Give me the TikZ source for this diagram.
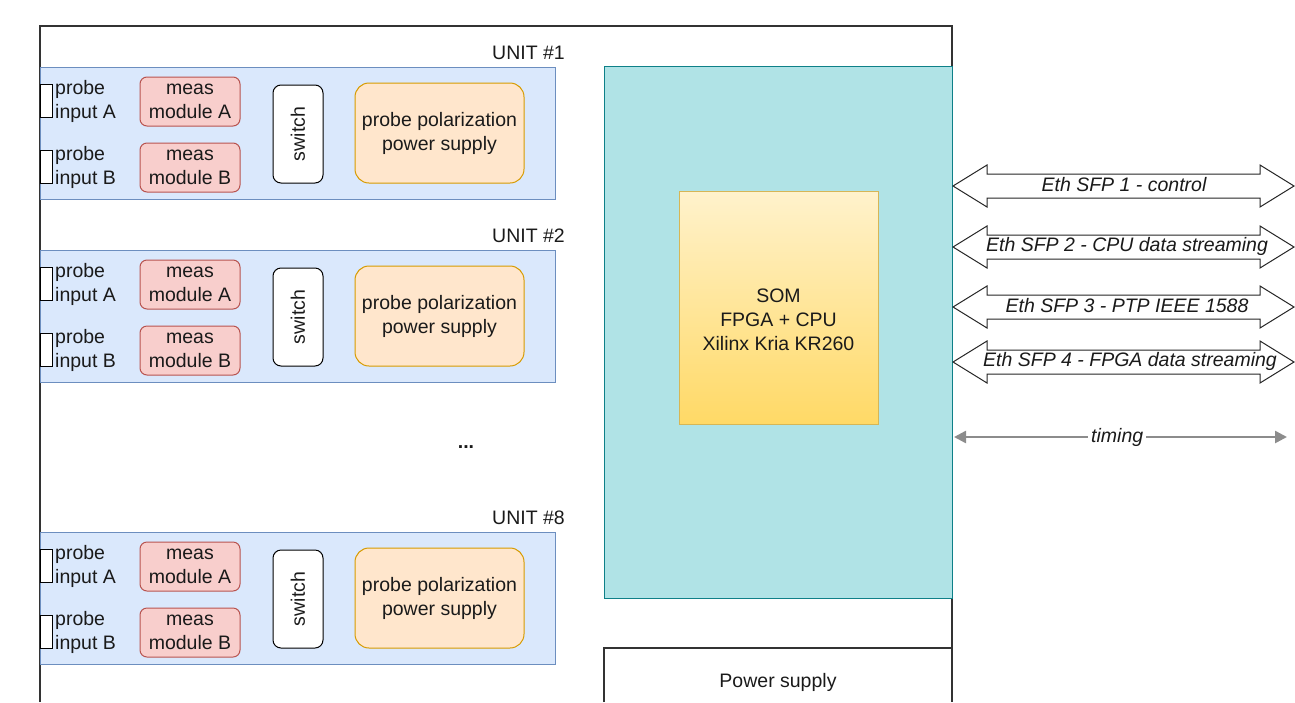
\documentclass[tikz,border=0pt]{standalone}
\usepackage{fontspec}
\setmainfont{Liberation Sans}
\usetikzlibrary{arrows.meta}
\definecolor{bfill}{HTML}{DAE8FC}\definecolor{bdraw}{HTML}{6C8EBF}
\definecolor{rfill}{HTML}{F8CECC}\definecolor{rdraw}{HTML}{B85450}
\definecolor{ofill}{HTML}{FFE6CC}\definecolor{odraw}{HTML}{D79B00}
\definecolor{tfill}{HTML}{B0E3E6}\definecolor{tdraw}{HTML}{0E8088}
\definecolor{ytop}{HTML}{FFF2CC}\definecolor{ybot}{HTML}{FFD966}\definecolor{ydraw}{HTML}{D6B656}
\definecolor{txt}{HTML}{1A1A1A}\definecolor{tgray}{HTML}{8C8C8C}
\begin{document}
\begin{tikzpicture}[x=1pt,y=-1pt,
  every node/.style={font=\fontsize{19.5}{24}\selectfont, text=txt, inner sep=0pt},
  frame/.style={draw=black!80, line width=1.3pt},
  unitbox/.style={draw=bdraw, fill=bfill, line width=1pt, minimum width=515pt, minimum height=132pt},
  probebox/.style={draw=black, fill=white, line width=1pt, minimum width=12pt, minimum height=33pt},
  probetxt/.style={anchor=west, align=left},
  measbox/.style={draw=rdraw, fill=rfill, line width=1pt, rounded corners=7pt, minimum width=100pt, minimum height=49pt, align=center},
  swbox/.style={draw=black, fill=white, line width=1pt, rounded corners=8pt, minimum width=50pt, minimum height=98pt},
  ppsbox/.style={draw=odraw, fill=ofill, line width=1pt, rounded corners=14pt, minimum width=169pt, minimum height=100pt, align=center},
  fat/.style={draw=black!85, fill=white, line width=1pt, line join=miter},
  ethlab/.style={font=\fontsize{19.5}{24}\selectfont\itshape},
  timing/.style={draw=tgray, line width=2.5pt, {Triangle[length=12pt,width=12pt]}-{Triangle[length=12pt,width=12pt]}}
]
\useasboundingbox (0,0) rectangle (1295,702);
% outer frame
\draw[frame] (40,702) -- (40,26) -- (952,26) -- (952,702);
% units
\foreach \n/\dy in {1/0, 2/183, 8/465}{
  \node[anchor=east] (lab\n) at (565,{53+\dy}) {UNIT \#\n};
  \node[unitbox] (unit\n) at (297.5,{133+\dy}) {};
  \node[probebox] (pa\n) at (46,{100.5+\dy}) {};
  \node[probetxt] (pat\n) at (55,{101+\dy}) {probe\\input A};
  \node[probebox] (pb\n) at (46,{166.5+\dy}) {};
  \node[probetxt] (pbt\n) at (55,{167+\dy}) {probe\\input B};
  \node[measbox] (ma\n) at (190,{101.5+\dy}) {meas\\module A};
  \node[measbox] (mb\n) at (190,{167.5+\dy}) {meas\\module B};
  \node[swbox] (sw\n) at (298,{134+\dy}) {};
  \node[rotate=90] (swt\n) at (sw\n) {switch};
  \node[ppsbox] (pps\n) at (439.5,{133+\dy}) {probe polarization\\power supply};
}
\node[font=\fontsize{19.5}{24}\selectfont\bfseries] (dots) at (466,447) {...};
% teal board
\node[draw=tdraw, fill=tfill, line width=1pt, minimum width=348pt, minimum height=532pt] (board) at (778,332) {};
\node[draw=ydraw, top color=ytop, bottom color=ybot, line width=1pt, minimum width=199pt, minimum height=233pt] (som) at (778.5,307.5) {};
\node[align=center] (somt) at (778.5,320) {SOM\\FPGA + CPU\\Xilinx Kria KR260};
% power supply
\draw[frame] (604,702) -- (604,648) -- (952,648);
\node (pst) at (778,682) {Power supply};
% fat arrows
\foreach \i/\yy in {1/186, 2/247, 3/307, 4/362}{
  \draw[fat] (953,\yy) -- (987,{\yy-21}) -- (987,{\yy-12}) -- (1260,{\yy-12}) -- (1260,{\yy-21}) -- (1294,\yy)
    -- (1260,{\yy+21}) -- (1260,{\yy+12}) -- (987,{\yy+12}) -- (987,{\yy+21}) -- cycle;
}
\node[ethlab] (e1) at (1124,185) {Eth SFP 1 - control};
\node[ethlab] (e2) at (1127,246) {Eth SFP 2 - CPU data streaming};
\node[ethlab] (e3) at (1127,306) {Eth SFP 3 - PTP IEEE 1588};
\node[ethlab] (e4) at (1130,361) {Eth SFP 4 - FPGA data streaming};
% timing
\coordinate (t1) at (954,437);
\coordinate (t2) at (1287,437);
\draw[timing] (t1) -- (t2) node[pos=0.49, fill=white, inner xsep=3pt, inner ysep=2pt, ethlab] (tl) {timing};
\end{tikzpicture}
\end{document}
